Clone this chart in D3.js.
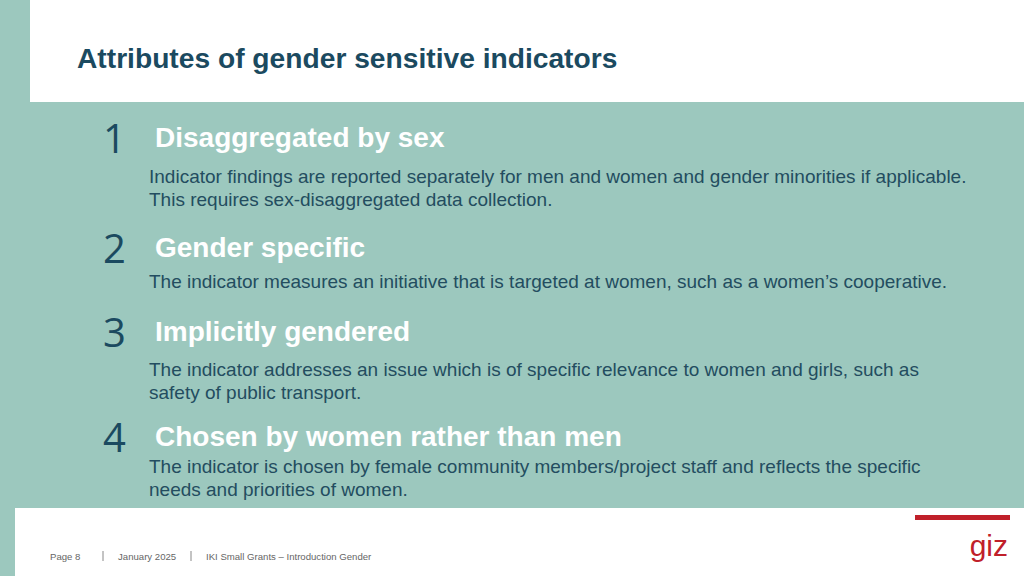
<!DOCTYPE html>
<html>
<head>
<meta charset="utf-8">
<script src="https://cdn.jsdelivr.net/npm/d3@7"></script>
<style>
	body { margin: 0; }
	svg { display: block; }
</style>
</head>
<body>
<script>
	'use strict';
	var numbers = ['1', '2', '3', '4'],
		headings = ['Disaggregated by sex', 'Gender specific', 'Implicitly gendered', 'Chosen by women rather than men'],
		bodies = [
			['Indicator findings are reported separately for men and women and gender minorities if applicable.',
				'This requires sex-disaggregated data collection.'],
			['The indicator measures an initiative that is targeted at women, such as a women\u2019s cooperative.'],
			['The indicator addresses an issue which is of specific relevance to women and girls, such as',
				'safety of public transport.'],
			['The indicator is chosen by female community members/project staff and reflects the specific',
				'needs and priorities of women.']
		],
		headY = [147, 257, 341, 446],
		bodyY = [183, 288, 376, 473],
		footer = ['Page 8', 'January 2025', 'IKI Small Grants \u2013 Introduction Gender'],
		footX = [50, 118, 206],
		W = 1024, H = 576,
		teal = '#9cc8be',
		svg = d3.select('body').append('svg').attr('width', W).attr('height', H),
		items;

	// backgrounds
	svg.append('rect').attr('width', W).attr('height', H).attr('fill', teal);
	svg.append('rect').attr('x', 30).attr('y', 0).attr('width', W - 30).attr('height', 102).attr('fill', '#fff');
	svg.append('rect').attr('x', 15).attr('y', 508).attr('width', W - 15).attr('height', H - 508).attr('fill', '#fff');

	svg.append('text').text('Attributes of gender sensitive indicators')
		.attr('x', 77).attr('y', 68).attr('font-family', 'Liberation Sans, Arial, sans-serif')
		.attr('font-weight', 'bold').attr('font-size', '28.2px').attr('fill', '#1b4a60');

	items = svg.selectAll('g.item').data(numbers).enter().append('g').attr('class', 'item');
	items.append('text').text(function (d) { return d; })
		.attr('x', 103).attr('y', function (d, i) { return headY[i] + 6; })
		.attr('font-family', 'Open Sans, sans-serif').attr('font-size', '40px').attr('fill', '#1b4a60');
	items.append('text').text(function (d, i) { return headings[i]; })
		.attr('x', 155).attr('y', function (d, i) { return headY[i]; })
		.attr('font-family', 'Liberation Sans, Arial, sans-serif').attr('font-weight', 'bold')
		.attr('font-size', '28px').attr('fill', '#fff');
	items.each(function (d, i) {
		d3.select(this).selectAll('text.body').data(bodies[i]).enter().append('text')
			.attr('class', 'body').text(function (t) { return t; })
			.attr('x', 149).attr('y', function (t, j) { return bodyY[i] + j * 23; })
			.attr('font-family', 'Liberation Sans, Arial, sans-serif').attr('font-size', '19px')
			.attr('fill', '#234d60');
	});

	// footer
	svg.selectAll('text.foot').data(footer).enter().append('text').attr('class', 'foot')
		.text(function (d) { return d; })
		.attr('x', function (d, i) { return footX[i]; }).attr('y', 560)
		.attr('font-family', 'Liberation Sans, sans-serif')
		.attr('font-size', '9.6px').attr('fill', '#666');
	[103, 191].forEach(function (x) {
		svg.append('line').attr('x1', x).attr('x2', x).attr('y1', 551).attr('y2', 561)
			.attr('stroke', '#888').attr('stroke-width', 1);
	});
	svg.append('rect').attr('x', 915).attr('y', 515).attr('width', 95).attr('height', 5).attr('fill', '#c0202a');
	svg.append('text').text('giz').attr('x', 1008).attr('y', 556).attr('text-anchor', 'end')
		.attr('font-family', 'Liberation Sans Narrow, Liberation Sans, sans-serif')
		.attr('font-size', '30px').attr('fill', '#c0202a');
</script>
</body>
</html>
